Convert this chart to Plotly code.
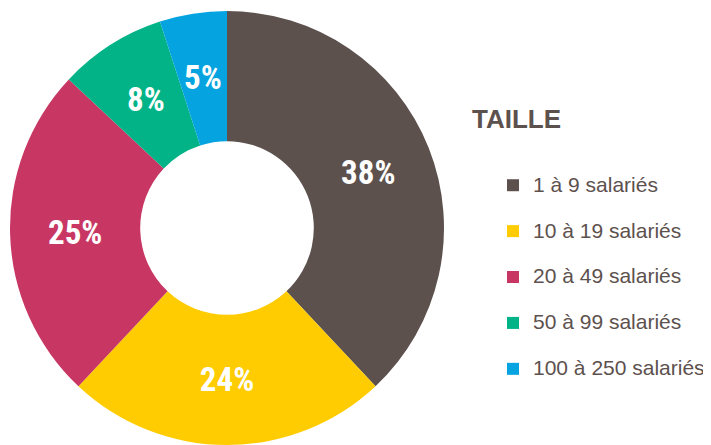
import math
import plotly.graph_objects as go

categories = ["1 à 9 salariés", "10 à 19 salariés", "20 à 49 salariés", "50 à 99 salariés", "100 à 250 salariés"]
values = [38, 24, 25, 8, 5]
colors = ["#5d514e", "#fecc00", "#c83763", "#02b388", "#05a3e0"]
legend_title = "TAILLE"

TEXT = "#5d514e"
LABEL_FONT = dict(family="Roboto Condensed, Roboto, sans-serif", size=33, color="white", weight="bold")
legend_labels = ['<span style="font-size:21px">' + c + '</span><br> ' for c in categories]

W, H = 703, 437  # page body has an 8px margin
PLOT_H = H - 3
HOLE = 0.4
CX_PX = 219
R_PX = PLOT_H / 2

# small slices get their labels at mid-ring (plotly would push them outward)
small = [v < 10 for v in values]
textpos = ["none" if s else "inside" for s in small]

fig = go.Figure(go.Pie(
    labels=legend_labels,
    values=values,
    sort=False,
    direction="clockwise",
    hole=HOLE,
    marker=dict(colors=colors, line=dict(width=0)),
    texttemplate='<span style="font-stretch:condensed">%{value}%</span>',
    textposition=textpos,
    insidetextorientation="horizontal",
    textfont=LABEL_FONT,
    domain=dict(x=[0, 2 * CX_PX / W], y=[0, 1]),
    hoverinfo="skip",
))

total = sum(values)
cum = 0
r_mid = R_PX * (1 + HOLE) / 2
for v, s in zip(values, small):
    theta = 2 * math.pi * (cum + v / 2) / total
    cum += v
    if not s:
        continue
    fig.add_annotation(
        text='<span style="font-stretch:condensed">%d%%</span>' % v,
        x=(CX_PX + r_mid * math.sin(theta)) / W,
        y=0.5 + r_mid * math.cos(theta) / PLOT_H,
        xref="paper", yref="paper", showarrow=False,
        xanchor="center", yanchor="middle", font=LABEL_FONT,
    )

fig.add_annotation(
    text="<b>" + legend_title + "</b>", x=462 / W, y=326 / PLOT_H, xref="paper", yref="paper",
    showarrow=False, xanchor="left", yanchor="middle",
    font=dict(family="Liberation Sans, Arial, sans-serif", size=26, color=TEXT),
)

fig.update_layout(
    width=W, height=H,
    margin=dict(l=0, r=0, t=3, b=0, autoexpand=False),
    paper_bgcolor="white",
    showlegend=True,
    legend=dict(
        x=485 / W, y=1 - 157 / PLOT_H, xanchor="left", yanchor="top",
        valign="top",
        bgcolor="rgba(0,0,0,0)",
        font=dict(family="Liberation Sans, Arial, sans-serif", size=16.5, color=TEXT),
    ),
)

fig.write_html("out.html")
